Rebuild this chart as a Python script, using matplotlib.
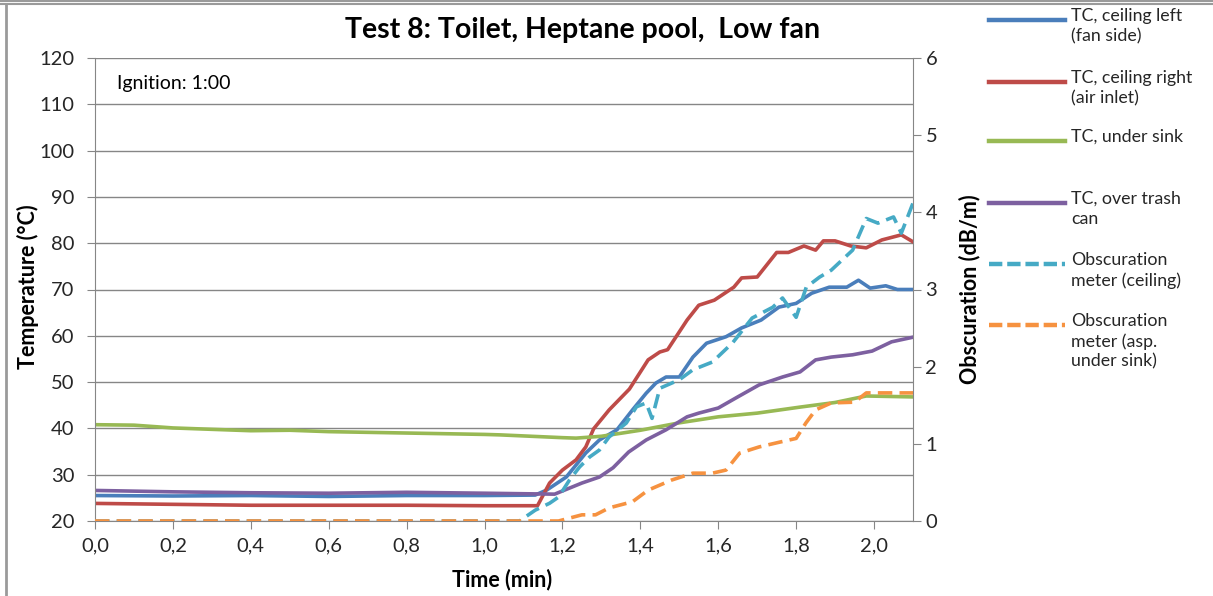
import matplotlib
matplotlib.use("Agg")
import matplotlib.pyplot as plt
from matplotlib.lines import Line2D
from matplotlib.ticker import FuncFormatter, MultipleLocator

plt.rcParams["font.family"] = ["Lato", "DejaVu Sans"]

# --- data (time in min, temperature in degC, obscuration in dB/m) ---
t_left = [0, 0.2, 0.4, 0.6, 0.8, 1.0, 1.13, 1.16, 1.21, 1.26, 1.295, 1.34, 1.38,
          1.415, 1.44, 1.466, 1.50, 1.535, 1.57, 1.62, 1.66, 1.71, 1.756, 1.80,
          1.84, 1.885, 1.93, 1.96, 1.99, 2.03, 2.06, 2.1]
temp_left = [25.5, 25.4, 25.5, 25.3, 25.5, 25.5, 25.6, 26.7, 29.5, 34.7, 37.5, 39.7,
             44.0, 47.6, 49.8, 51.1, 51.1, 55.4, 58.4, 59.8, 61.7, 63.4, 66.2, 67.0,
             69.2, 70.5, 70.5, 72.0, 70.3, 70.8, 70.0, 70.0]

t_right = [0, 0.2, 0.4, 0.6, 0.8, 1.0, 1.136, 1.167, 1.2, 1.235, 1.26, 1.28, 1.32,
           1.372, 1.42, 1.45, 1.47, 1.52, 1.55, 1.59, 1.64, 1.66, 1.70, 1.75, 1.78,
           1.82, 1.85, 1.87, 1.90, 1.94, 1.98, 2.02, 2.07, 2.1]
temp_right = [23.8, 23.6, 23.4, 23.4, 23.4, 23.3, 23.3, 28.2, 31.0, 33.2, 36.0, 39.9,
              44.0, 48.5, 54.8, 56.5, 57.0, 63.4, 66.6, 67.7, 70.5, 72.5, 72.7, 78.0,
              78.0, 79.4, 78.5, 80.5, 80.5, 79.4, 79.0, 80.7, 81.8, 80.3]

t_sink = [0, 0.1, 0.2, 0.4, 0.5, 0.6, 0.8, 1.0, 1.04, 1.2, 1.235, 1.3, 1.4, 1.5,
          1.6, 1.7, 1.81, 1.9, 1.98, 2.1]
temp_sink = [40.8, 40.7, 40.1, 39.5, 39.6, 39.3, 39.0, 38.7, 38.6, 38.0, 37.9, 38.3,
             39.6, 41.2, 42.5, 43.3, 44.6, 45.6, 47.0, 46.8]

t_trash = [0, 0.2, 0.4, 0.6, 0.8, 1.0, 1.18, 1.25, 1.295, 1.33, 1.37, 1.415, 1.466,
           1.52, 1.55, 1.60, 1.65, 1.705, 1.765, 1.81, 1.85, 1.89, 1.945, 1.995,
           2.045, 2.1]
temp_trash = [26.6, 26.3, 26.1, 26.0, 26.2, 26.0, 25.8, 28.2, 29.5, 31.5, 34.9, 37.5,
              39.7, 42.5, 43.3, 44.4, 46.8, 49.4, 51.1, 52.2, 54.8, 55.4, 55.9, 56.7,
              58.7, 59.7]

t_obs_ceil = [0, 1.09, 1.13, 1.167, 1.19, 1.218, 1.244, 1.27, 1.295, 1.32, 1.364,
              1.39, 1.415, 1.43, 1.45, 1.50, 1.535, 1.585, 1.637, 1.687, 1.74, 1.765,
              1.80, 1.826, 1.86, 1.89, 1.945, 1.98, 2.01, 2.05, 2.07, 2.1]
obs_ceil = [0, 0, 0.14, 0.23, 0.31, 0.53, 0.70, 0.83, 0.92, 1.09, 1.27, 1.48, 1.53,
            1.33, 1.72, 1.83, 1.96, 2.06, 2.31, 2.63, 2.77, 2.89, 2.64, 3.03, 3.16,
            3.25, 3.51, 3.92, 3.86, 3.94, 3.73, 4.12]

t_obs_sink = [0, 1.17, 1.19, 1.25, 1.285, 1.32, 1.38, 1.42, 1.48, 1.535, 1.585, 1.62,
              1.655, 1.705, 1.756, 1.80, 1.825, 1.85, 1.89, 1.95, 1.98, 2.1]
obs_sink = [0, 0, 0, 0.08, 0.08, 0.17, 0.25, 0.40, 0.53, 0.62, 0.62, 0.66, 0.88, 0.96,
            1.02, 1.07, 1.27, 1.44, 1.53, 1.54, 1.66, 1.66]

labels = [
    "TC, ceiling left\n(fan side)",
    "TC, ceiling right\n(air inlet)",
    "TC, under sink",
    "TC, over trash\ncan",
    "Obscuration\nmeter (ceiling)",
    "Obscuration\nmeter (asp.\nunder sink)",
]
colors = ["#4A7EBB", "#BE4B48", "#98B954", "#7D60A0", "#46AAC5", "#F69240"]

GRAY = "#868686"
W, H = 1213, 596

fig = plt.figure(figsize=(W / 100, H / 100), dpi=100)
ax = fig.add_axes([95 / W, 1 - 521 / H, (913 - 95) / W, (521 - 58) / H])
ax2 = ax.twinx()

lw = 2.6
ax.plot(t_left, temp_left, color=colors[0], lw=lw)
ax.plot(t_right, temp_right, color=colors[1], lw=lw)
ax.plot(t_sink, temp_sink, color=colors[2], lw=lw)
ax.plot(t_trash, temp_trash, color=colors[3], lw=lw)
dash = (0, (4.0, 2.0))
ax2.plot(t_obs_ceil, obs_ceil, color=colors[4], lw=lw, linestyle=dash)
ax2.plot(t_obs_sink, obs_sink, color=colors[5], lw=lw, linestyle=dash)

ax.set_xlim(0, 2.1)
ax.set_ylim(20, 120)
ax2.set_ylim(0, 6)
ax.yaxis.set_major_locator(MultipleLocator(10))
ax2.yaxis.set_major_locator(MultipleLocator(1))
ax.xaxis.set_major_locator(MultipleLocator(0.2))
ax.xaxis.set_major_formatter(FuncFormatter(lambda v, p: f"{v:.1f}".replace(".", ",")))

ax.grid(axis="y", color=GRAY, lw=1)
ax.set_axisbelow(True)
for a in (ax, ax2):
    a.spines["top"].set_visible(False)
    for s in ("left", "right", "bottom"):
        a.spines[s].set_color(GRAY)
    a.tick_params(colors=GRAY, labelcolor="#262626", labelsize=14.5, length=6, direction="out")
ax.spines["right"].set_visible(False)
ax2.spines["left"].set_visible(False)
ax2.spines["bottom"].set_visible(False)
ax.tick_params(axis="y", pad=9)
ax2.tick_params(axis="y", pad=3)
ax.tick_params(axis="x", pad=6)

fig.text(583 / W, 1 - 30 / H, "Test 8: Toilet, Heptane pool,  Low fan",
         ha="center", va="center", fontsize=20.5, fontweight="bold")
fig.text(28 / W, 1 - 287 / H, "Temperature (°C)", rotation=90,
         ha="center", va="center", fontsize=15.5, fontweight="bold")
fig.text(970 / W, 1 - 289 / H, "Obscuration (dB/m)", rotation=90,
         ha="center", va="center", fontsize=15.5, fontweight="bold")
fig.text(502 / W, 1 - 580 / H, "Time (min)",
         ha="center", va="center", fontsize=15.5, fontweight="bold")
ax.text(0.027, 0.945, "Ignition: 1:00", transform=ax.transAxes,
        ha="left", va="center", fontsize=14)

# legend, Excel style: one fixed-height row per series
rows = [20, 82, 141, 203, 264, 325]
styles = ["-", "-", "-", "-", (0, (3.0, 1.1)), (0, (3.0, 1.1))]
for y, lab, col, ls in zip(rows, labels, colors, styles):
    yf = 1 - y / H
    fig.add_artist(Line2D([989 / W, 1065 / W], [yf, yf], transform=fig.transFigure,
                          color=col, lw=3.2, linestyle=ls))
    fig.text(1071 / W, 1 - (y - 12) / H, lab, ha="left", va="top",
             fontsize=12.8, color="#262626", linespacing=1.3)

# chart frame lines
for yy in (1, 4):
    fig.add_artist(Line2D([0, 1], [1 - yy / H] * 2, transform=fig.transFigure,
                          color="#9a9a9a", lw=1.5))
fig.add_artist(Line2D([6 / W, 6 / W], [0, 1 - 5 / H], transform=fig.transFigure,
                      color="#9a9a9a", lw=2))

fig.savefig("out.png", dpi=100, facecolor="white")
